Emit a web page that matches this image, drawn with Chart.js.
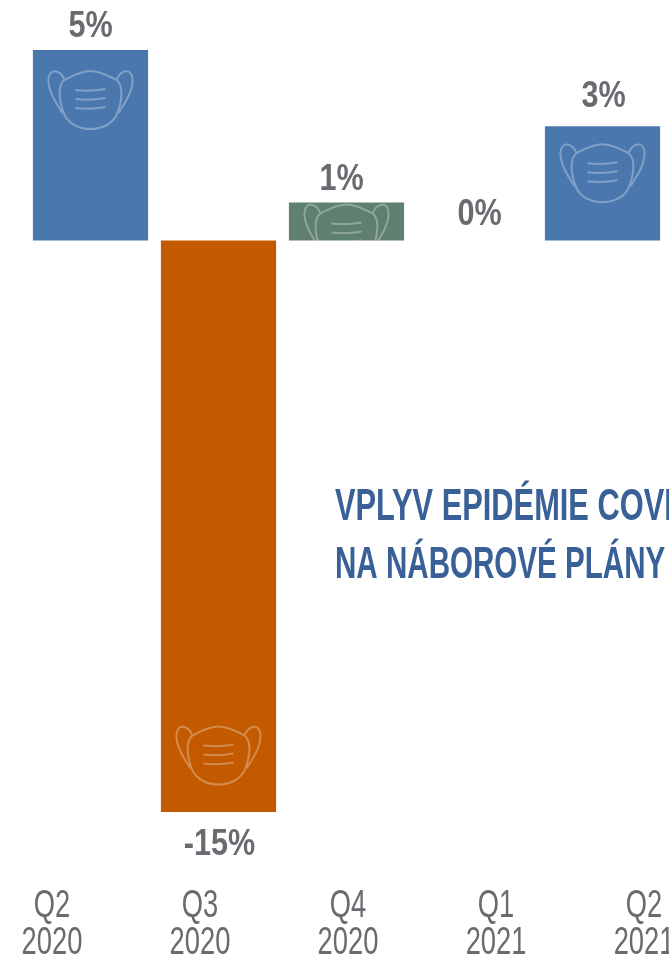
<!DOCTYPE html>
<html>
<head>
<meta charset="utf-8">
<script src="https://cdn.jsdelivr.net/npm/chart.js@4"></script>
<style>
html, body { margin: 0; padding: 0; background: #fff; overflow: hidden; }
#wrap { width: 669px; height: 955px; }
</style>
</head>
<body>
<div id="wrap"><canvas id="myChart" width="669" height="955"></canvas></div>
<script>
const categories = ['Q2 2020', 'Q3 2020', 'Q4 2020', 'Q1 2021', 'Q2 2021'];
const values = [5, -15, 1, 0, 3];
const valueLabels = ['5%', '-15%', '1%', '0%', '3%'];
const tickLabels = [['Q2', '2020'], ['Q3', '2020'], ['Q4', '2020'], ['Q1', '2021'], ['Q2', '2021']];
const barColors = ['#4a78ae', '#c35a00', '#5f806e', '#4a78ae', '#4a78ae'];
const titleLines = ['VPLYV EPIDÉMIE COVI', 'NA NÁBOROVÉ PLÁNY'];

const family = '"Liberation Sans", sans-serif';

// top of the mask measured from the top of its bar
const maskTop = [21, 486, 2, 0, 18];
// label nudges from bar centre / bar end, the source labels are not quite centred
const labelShift = [[0, -13], [1, 43], [-5, -12], [5, -16], [1, -19]];

// no condensed font installed, so squeeze normal text horizontally
function squeezed(ctx, text, x, y, sx, align) {
    ctx.save();
    ctx.translate(x, y);
    ctx.scale(sx, 1);
    ctx.textAlign = align;
    ctx.textBaseline = 'alphabetic';
    ctx.fillText(text, 0, 0);
    ctx.restore();
}

function drawMask(ctx, cx, top) {
    ctx.save();
    ctx.translate(cx, top);
    ctx.strokeStyle = 'rgba(255,255,255,0.3)';
    ctx.lineWidth = 2;
    ctx.beginPath();
    // face part
    ctx.moveTo(0, 0);
    ctx.bezierCurveTo(10, 0, 18, 5, 26, 9);
    ctx.bezierCurveTo(33, 14, 32, 30, 26, 44);
    ctx.bezierCurveTo(21, 54, 10, 58, 0, 58);
    ctx.bezierCurveTo(-10, 58, -21, 54, -26, 44);
    ctx.bezierCurveTo(-32, 30, -33, 14, -26, 9);
    ctx.bezierCurveTo(-18, 5, -10, 0, 0, 0);
    // ears
    ctx.moveTo(26, 9);
    ctx.bezierCurveTo(30, -1, 41, -4, 42, 8);
    ctx.bezierCurveTo(43, 20, 33, 34, 28, 42);
    ctx.moveTo(-26, 9);
    ctx.bezierCurveTo(-30, -1, -41, -4, -42, 8);
    ctx.bezierCurveTo(-43, 20, -33, 34, -28, 42);
    // pleats
    [19, 28, 37].forEach((y) => {
        ctx.moveTo(-15, y);
        ctx.quadraticCurveTo(0, y + 2, 15, y - 1);
    });
    ctx.stroke();
    ctx.restore();
}

const decorations = {
    id: 'decorations',
    afterDatasetsDraw(chart) {
        const ctx = chart.ctx;
        const bars = chart.getDatasetMeta(0).data;
        bars.forEach((bar, i) => {
            if (values[i] === 0) return;
            const top = Math.min(bar.y, bar.base);
            const height = Math.abs(bar.base - bar.y);
            ctx.save();
            ctx.beginPath();
            ctx.rect(bar.x - bar.width / 2, top, bar.width, height);
            ctx.clip();
            drawMask(ctx, bar.x, top + maskTop[i]);
            ctx.restore();
        });

        ctx.save();
        ctx.fillStyle = '#6a6b70';
        ctx.font = 'bold 36px ' + family;
        bars.forEach((bar, i) => {
            squeezed(ctx, valueLabels[i], bar.x + labelShift[i][0], bar.y + labelShift[i][1], 0.85, 'center');
        });

        // quarter labels, placed by the x2 scale
        const x2 = chart.scales.x2;
        ctx.font = '39px ' + family;
        tickLabels.forEach((lines, i) => {
            const px = x2.getPixelForValue(i);
            squeezed(ctx, lines[0], px, 917, 0.7, 'center');
            squeezed(ctx, lines[1], px, 954, 0.7, 'center');
        });

        ctx.fillStyle = '#3a6098';
        ctx.font = 'bold 44px ' + family;
        squeezed(ctx, titleLines[0], 335, 520, 0.7, 'left');
        squeezed(ctx, titleLines[1], 335, 578, 0.672, 'left');
        ctx.restore();
    }
};

window.addEventListener('DOMContentLoaded', (event) => {
    let ctx = document.getElementById('myChart').getContext('2d');
    new Chart(ctx, {
        type: 'bar',
        data: {
            labels: categories,
            datasets: [{
                data: values,
                backgroundColor: barColors,
                barPercentage: 0.9,
                categoryPercentage: 1,
                xAxisID: 'x',
                yAxisID: 'y'
            }]
        },
        options: {
            responsive: false,
            animation: false,
            layout: { padding: { left: 26.5, right: 2.5, top: 50, bottom: 0 } },
            plugins: { legend: { display: false }, tooltip: { enabled: false } },
            scales: {
                x: { display: false },
                y: { display: false, min: -15, max: 5 },
                // the quarter labels run on a wider spacing than the bars
                x2: {
                    type: 'linear',
                    position: 'bottom',
                    offset: false,
                    min: -0.172,
                    max: 4.152,
                    grid: { display: false, drawTicks: false },
                    border: { display: false },
                    ticks: { display: false },
                    afterFit: (scale) => {
                        scale.height = 143;
                        scale.paddingLeft = 0;
                        scale.paddingRight = 0;
                    }
                }
            }
        },
        plugins: [decorations]
    });
});
</script>
</body>
</html>
